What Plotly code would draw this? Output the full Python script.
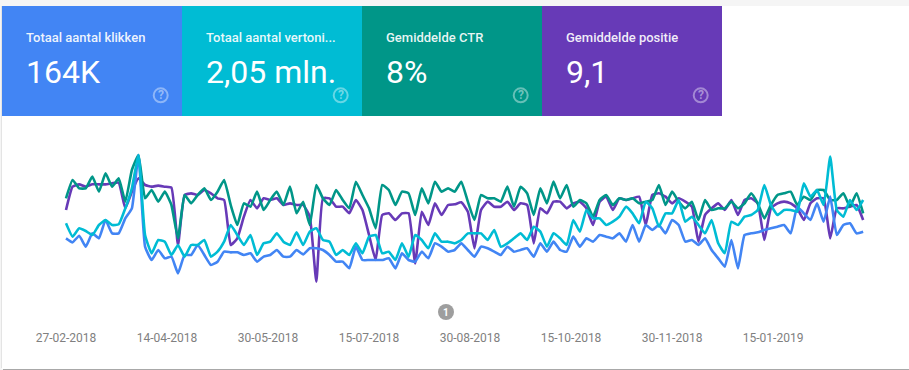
import pandas as pd
import plotly.graph_objects as go

W, H = 909, 370
START = "2018-02-27"
STEP_DAYS = 3
TICK_DATES = ["2018-02-27", "2018-04-14", "2018-05-30", "2018-07-15", "2018-08-30", "2018-10-15", "2018-11-30", "2019-01-15"]
TICK_LABELS = ["27-02-2018", "14-04-2018", "30-05-2018", "15-07-2018", "30-08-2018", "15-10-2018", "30-11-2018", "15-01-2019"]
CARD_TITLES = ["Totaal aantal klikken", "Totaal aantal vertoni...", "Gemiddelde CTR", "Gemiddelde positie"]
CARD_VALUES = ["164K", "2,05 mln.", "8%", "9,1"]
CARD_COLORS = ["#4285f4", "#00bcd4", "#009688", "#673ab7"]

# Hidden, normalised scale (axis is inverted: smaller = higher on the chart)
positie = [195,125,118,125,118,118,118,115,113,190,140,100,120,125,122,125,128,300,150,
           145,150,135,145,160,165,300,280,215,165,190,160,165,160,180,175,180,180,215,410,160,
           160,185,185,205,165,195,270,345,210,205,225,205,205,355,200,240,175,210,180,178,172,200,
           310,195,170,185,185,170,195,175,180,295,190,205,170,170,190,175,170,190,240,170,155,
           195,160,165,160,155,240,150,145,155,175,160,170,185,290,210,190,175,195,165,210,165,
           160,175,285,190,175,170,175,190,225,175,160,160,280,190,190,185,180,225]
ctr = [160,105,130,130,95,140,85,125,100,170,75,30,160,135,170,140,180,280,150,
       175,150,130,165,140,105,180,240,175,185,140,195,165,140,180,125,205,170,240,120,160,
       180,135,165,190,110,150,190,250,120,135,180,140,145,210,130,175,110,140,130,140,110,170,
       225,150,160,160,170,125,185,125,145,210,130,175,110,160,120,185,165,175,215,165,150,
       180,160,165,160,175,170,165,120,180,140,170,190,170,225,165,195,190,190,170,190,175,
       145,175,220,180,150,145,140,180,155,165,135,135,165,165,145,185,145,205]
vertoningen = [235,275,250,258,270,240,225,240,238,190,130,30,270,325,285,290,330,300,335,
               300,300,285,335,320,290,240,270,300,270,330,295,290,265,290,300,262,300,260,250,285,
               290,330,315,330,295,325,275,270,325,320,345,295,335,270,285,310,265,290,290,295,285,265,
               265,265,285,255,305,295,280,265,285,245,260,305,265,280,300,225,260,195,220,220,240,
               230,215,185,205,235,170,190,245,205,205,165,230,215,240,265,225,295,325,230,240,215,
               210,195,120,180,210,195,195,200,115,155,135,180,35,195,215,165,195,165]
klikken = [280,292,272,305,265,280,225,265,265,220,190,30,305,345,315,340,335,385,330,
           330,300,330,360,350,320,322,322,330,325,350,335,330,315,335,335,315,328,310,310,315,
           330,350,350,370,305,345,345,345,345,340,370,325,345,350,320,340,295,305,320,315,295,315,
           335,305,310,320,330,305,320,315,310,335,295,320,290,315,320,275,305,280,290,270,275,
           280,265,290,240,290,240,255,240,265,225,240,290,285,300,280,315,340,365,285,370,270,
           265,262,255,250,245,240,265,185,205,225,175,230,155,270,240,235,265,260]

SERIES = [("Gemiddelde positie", positie, CARD_COLORS[3]),
          ("Gemiddelde CTR", ctr, CARD_COLORS[2]),
          ("Totaal aantal klikken", klikken, CARD_COLORS[0]),
          ("Totaal aantal vertoningen", vertoningen, CARD_COLORS[1])]

def fx(px): return px / W
def fy(py): return 1 - py / H

dates = pd.date_range(START, periods=len(positie), freq=f"{STEP_DAYS}D")
PX_PER_DAY = 2.196
X0_PX = 66
t0 = pd.Timestamp(START)
xr = [t0 - pd.Timedelta(days=X0_PX / PX_PER_DAY), t0 + pd.Timedelta(days=(W - X0_PX) / PX_PER_DAY)]

fig = go.Figure()
for name, vals, color in SERIES:
    fig.add_trace(go.Scatter(x=dates, y=vals, name=name, mode="lines",
                             line=dict(color=color, width=2.6, shape="spline", smoothing=0.4), hoverinfo="skip"))

shapes = [
    dict(type="rect", xref="paper", yref="paper", x0=fx(2), x1=fx(W + 2), y0=fy(369), y1=fy(6),
         fillcolor="white", line=dict(width=0), layer="below"),
    dict(type="line", xref="paper", yref="paper", x0=fx(3), x1=fx(W), y0=fy(369.5), y1=fy(369.5),
         line=dict(color="#a8a8a8", width=1), layer="below"),
    dict(type="line", xref="paper", yref="paper", x0=fx(1.5), x1=fx(1.5), y0=fy(368), y1=fy(6),
         line=dict(color="#e4e4e4", width=1), layer="below"),
]
annotations = []
for i, (t, v, c) in enumerate(zip(CARD_TITLES, CARD_VALUES, CARD_COLORS)):
    x0 = 2 + 180 * i
    shapes.append(dict(type="rect", xref="paper", yref="paper", x0=fx(x0), x1=fx(x0 + 180), y0=fy(116), y1=fy(6),
                       fillcolor=c, line=dict(width=0), layer="below"))
    shapes.append(dict(type="circle", xref="paper", yref="paper", x0=fx(x0 + 151.7), x1=fx(x0 + 165.7),
                       y0=fy(102.3), y1=fy(88.3), line=dict(color="rgba(255,255,255,0.4)", width=2),
                       fillcolor="rgba(0,0,0,0)", layer="above"))
    annotations.append(dict(text=t, x=fx(x0 + 21.5), y=fy(37.5), xref="paper", yref="paper", xanchor="left", yanchor="middle",
                            showarrow=False, font=dict(family="Roboto", size=13, color="rgba(255,255,255,0.92)", weight=500)))
    annotations.append(dict(text=v, x=fx(x0 + 21.5), y=fy(72), xref="paper", yref="paper", xanchor="left", yanchor="middle",
                            showarrow=False, font=dict(family="Roboto", size=32, color="white")))
    annotations.append(dict(text="?", x=fx(x0 + 158.7), y=fy(95), xref="paper", yref="paper", xanchor="center", yanchor="middle",
                            showarrow=False, font=dict(family="Roboto", size=12, color="rgba(255,255,255,0.45)", weight=700)))

shapes.append(dict(type="circle", xref="paper", yref="paper", x0=fx(438), x1=fx(454), y0=fy(320), y1=fy(304),
                   fillcolor="#9e9e9e", line=dict(width=0)))
annotations.append(dict(text="1", x=fx(446), y=fy(312), xref="paper", yref="paper", xanchor="center", yanchor="middle",
                        showarrow=False, font=dict(family="Roboto", size=10, color="white", weight=700)))

PLOT_TOP, PLOT_BOTTOM = 145, 329
fig.update_layout(
    width=W, height=H, margin=dict(l=0, r=0, t=0, b=0), autosize=False,
    paper_bgcolor="#f5f5f5", plot_bgcolor="rgba(0,0,0,0)", showlegend=False,
    shapes=shapes, annotations=annotations,
    xaxis=dict(range=xr, tickmode="array", tickvals=TICK_DATES, ticktext=TICK_LABELS, showgrid=False, zeroline=False,
               showline=False, ticks="", tickfont=dict(family="Roboto", size=12, color="#808080"), domain=[0, 1]),
    yaxis=dict(range=[(PLOT_BOTTOM - PLOT_TOP) * 3, 0], visible=False, domain=[fy(PLOT_BOTTOM), fy(PLOT_TOP)]),
)
fig.write_html("out.html", config=dict(displayModeBar=False),
               post_script="document.body.style.margin='0';document.documentElement.style.overflow='hidden';")
